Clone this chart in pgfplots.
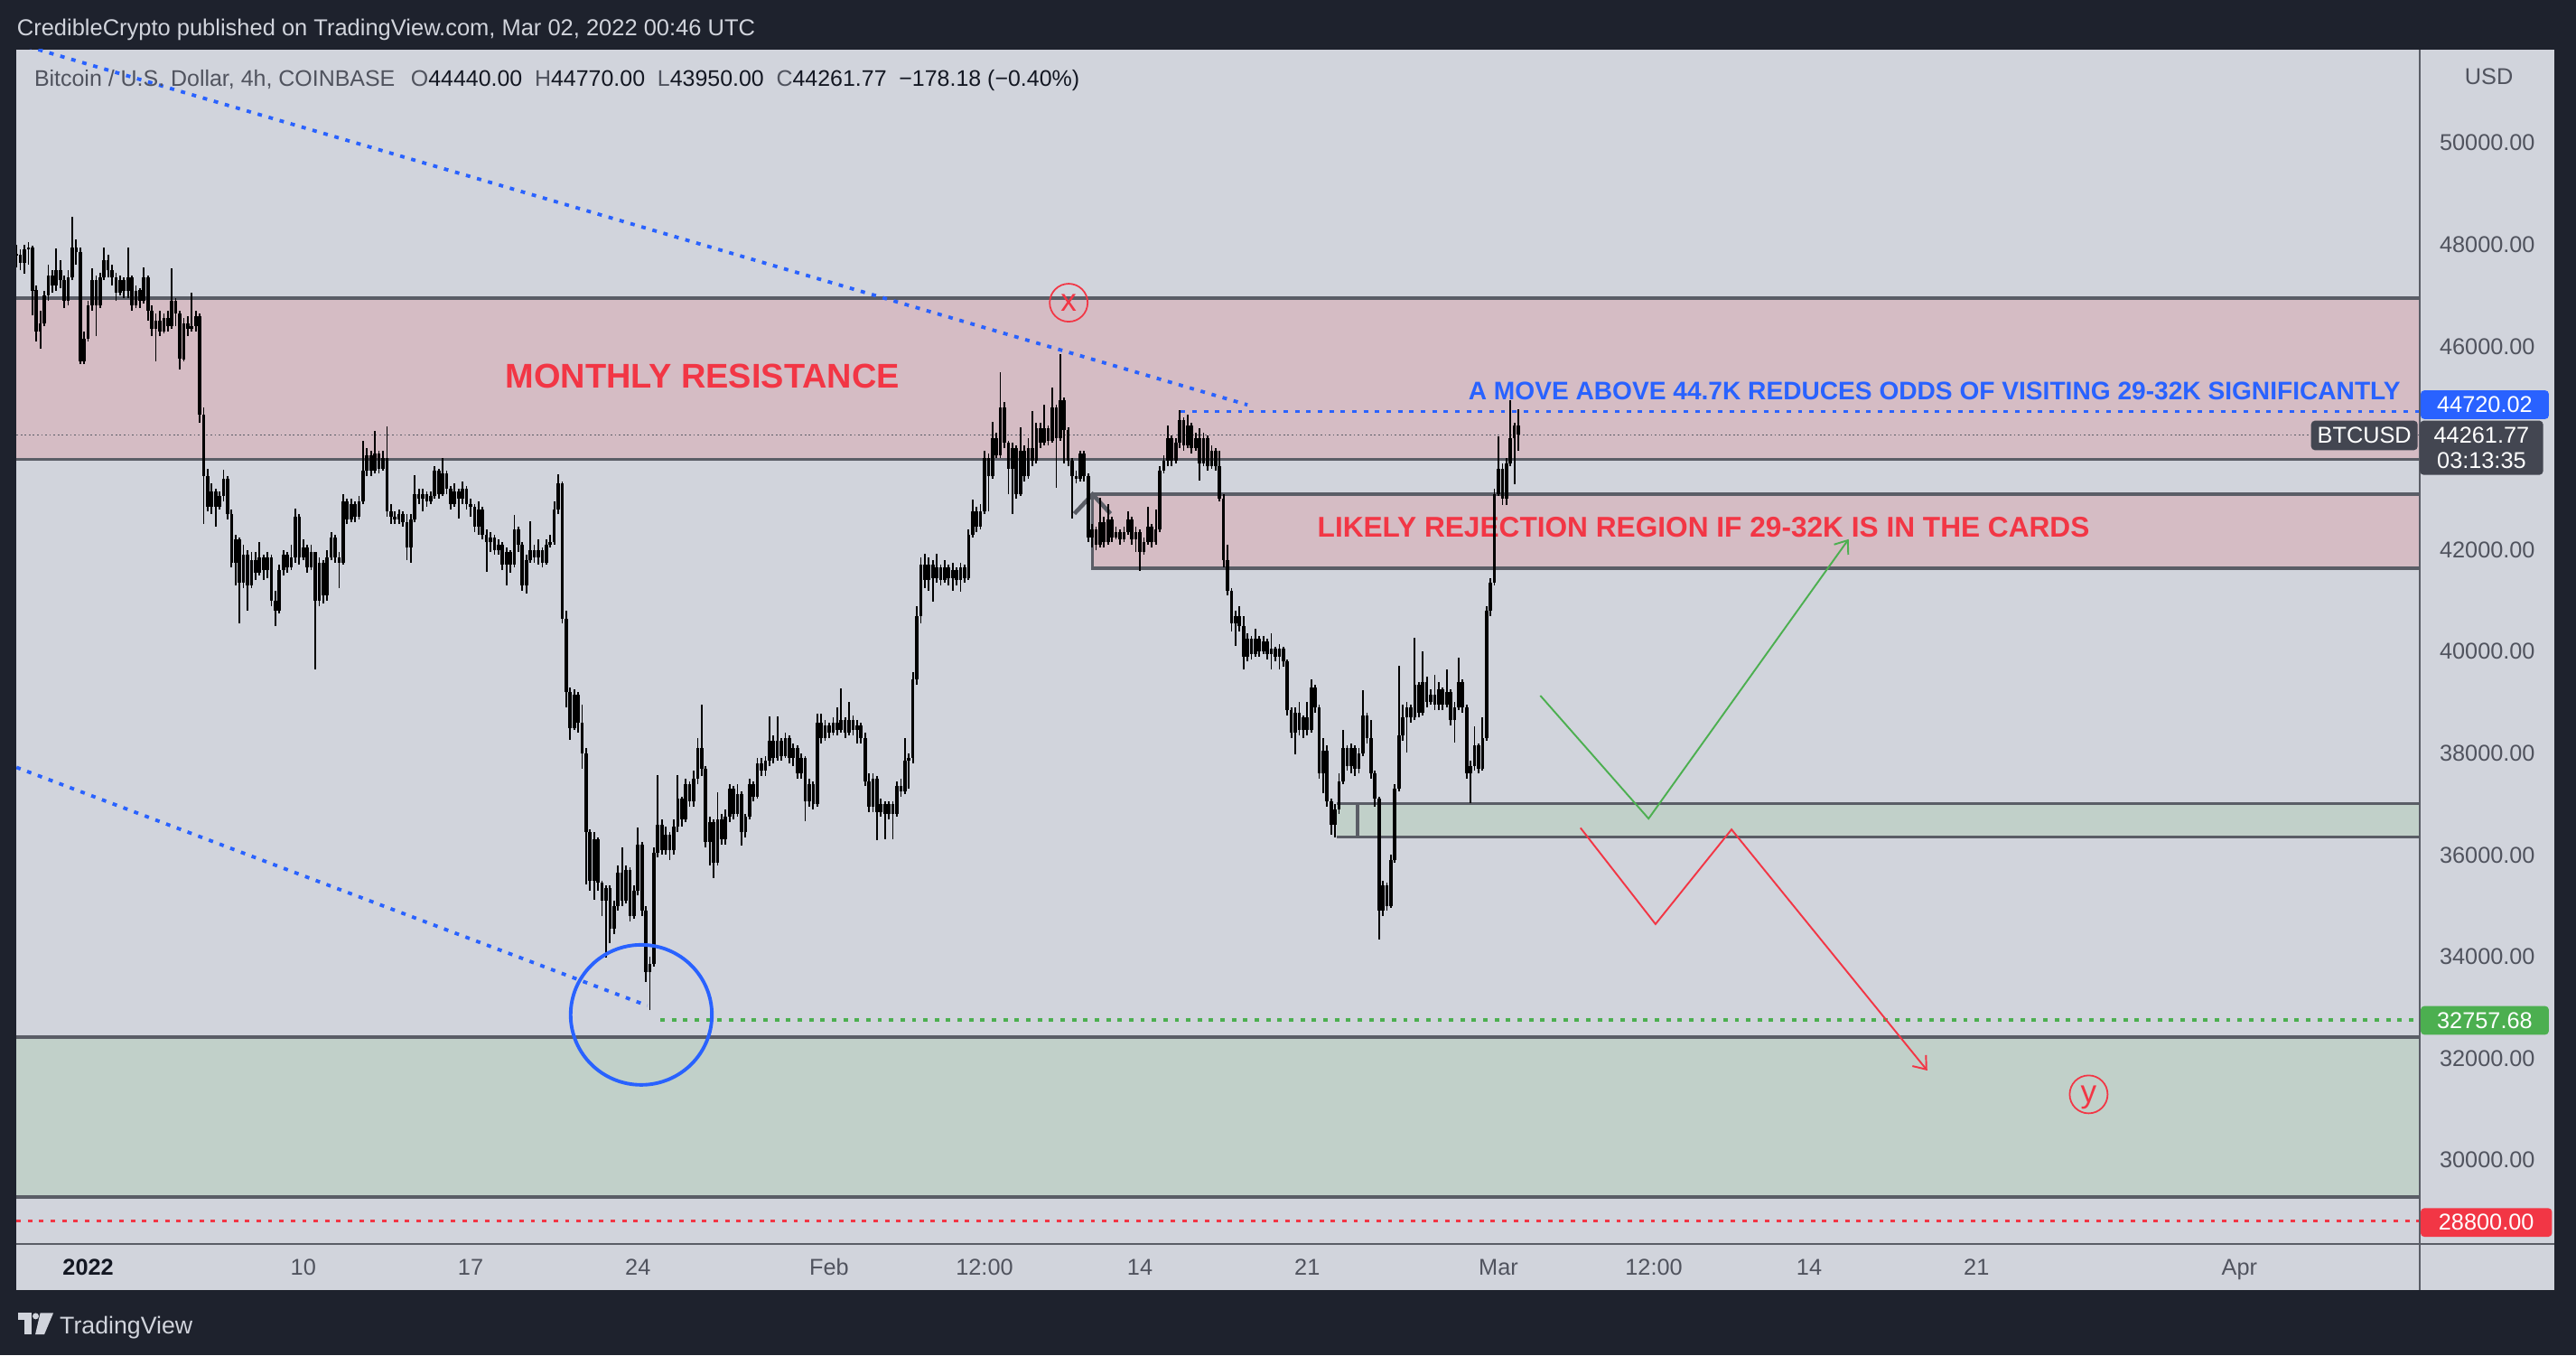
\documentclass[border=0pt]{standalone}
\usepackage{fontspec}
\setmainfont{Liberation Sans}
\usepackage{pgfplots}
\usepackage{pgfplotstable}
\pgfplotsset{compat=1.18}
\usetikzlibrary{arrows.meta}

\definecolor{tvdark}{HTML}{1E222D}
\definecolor{tvbg}{HTML}{D1D4DC}
\definecolor{tvline}{HTML}{5A5D66}
\definecolor{tvtext}{HTML}{50535E}
\definecolor{tvink}{HTML}{131722}
\definecolor{zred}{HTML}{D5BCC4}
\definecolor{zgreen}{HTML}{C1D0C9}
\definecolor{tvred}{HTML}{F23645}
\definecolor{tvblue}{HTML}{2962FF}
\definecolor{tvgreen}{HTML}{4CAF50}
\definecolor{tvbadge}{HTML}{434651}

\newcommand\tvfont{\fontsize{7.2}{8.6}\selectfont}

% BTCUSD 4h candles, 29 Dec 2021 -> 1 Mar 2022: close, high, low (open = previous close)
\pgfplotstableread{
c h l
47800 48000 47550
47650 47900 47500
47900 48000 47420
47950 48050 47600
47100 47980 46620
46300 47200 46100
46450 46700 45950
47000 47100 46400
47400 47600 46900
47200 47500 47050
47500 47920 47100
47300 47700 47150
46900 47400 46750
47350 47500 46800
47950 48550 47300
47850 48100 47600
45700 47950 45650
46150 46300 45650
46800 46900 46100
47300 47540 46700
46800 47400 46200
47350 47450 46750
47700 47950 47300
47500 47800 47350
47350 47600 47200
47050 47450 46900
47300 47400 47000
47100 47350 46950
47350 47950 46950
46800 47400 46700
47100 47200 46750
46900 47150 46750
47350 47550 46850
46700 47400 46500
46350 46800 46200
46500 46650 45700
46300 46700 46200
46550 46650 46250
46400 46700 46300
46900 47540 46350
46650 46950 46400
45750 46700 45540
46450 46550 45700
46350 46600 46200
46400 47060 46300
46600 46700 46300
44650 46650 44500
43450 44800 42500
42850 43600 42750
43150 43300 42700
42850 43200 42450
43050 43150 42800
43400 43570 42950
42700 43450 42600
41750 42800 41650
42200 42300 41300
41350 42250 40550
41900 42100 41250
41300 42000 40800
41800 41950 41250
41550 41950 41400
41850 42150 41500
41600 41900 41400
41850 41950 41450
41000 41900 40900
40800 41200 40500
41600 41700 40750
41900 42000 41500
41650 41950 41550
41850 42100 41600
42650 42810 41750
41850 42700 41700
42050 42200 41800
41650 42100 41550
41950 42100 41600
41000 41950 39640
41750 41850 40900
41100 41800 40950
41850 42000 41000
42250 42350 41800
41850 42300 41750
41750 41950 41250
42950 43100 41700
42600 43000 42500
42900 43000 42550
42650 42950 42550
42950 43050 42600
43550 44140 42900
43850 44000 43450
43550 43950 43450
43900 44340 43500
43600 43950 43500
43800 43950 43550
42750 44430 42650
42650 42900 42500
42600 42750 42500
42700 42800 42500
42550 42750 42450
42050 42700 41800
42600 42700 41750
43100 43470 42550
43000 43200 42900
43100 43200 42750
42950 43150 42850
43050 43150 42900
43550 43650 43000
43100 43600 43000
43500 43810 43050
43200 43550 43100
42900 43250 42800
43150 43300 42850
43000 43200 42610
43200 43350 42900
42900 43250 42800
42850 43000 42650
42450 42900 42350
42800 42950 42300
42300 42850 42200
42150 42400 41570
42250 42350 41950
42000 42300 41900
42100 42200 41900
41700 42150 41600
41950 42050 41300
41700 42000 41550
42400 42690 41650
42100 42450 41950
41300 42150 41200
41800 41900 41140
42000 42560 41750
41850 42100 41750
42000 42200 41700
41750 42050 41650
42100 42200 41700
42150 42300 42050
42800 42950 42100
43300 43480 42700
40650 43350 40550
39200 40800 38900
38500 39300 38260
39150 39250 38450
38600 39200 38400
38000 38950 37700
36450 38100 35420
35500 36500 35300
36300 36450 35120
35450 36350 35300
35100 35500 34800
35350 35400 33990
34550 35400 34260
35000 35100 34450
35650 35800 34900
35100 36150 35000
35700 35800 35050
34800 35750 34700
35300 35400 34750
36200 36540 35200
34900 36250 34800
33700 35000 33500
33850 34000 32960
36050 36150 33800
36600 37570 35950
36100 36700 36000
36400 36550 36000
36100 36450 35900
36550 36700 36000
37100 37570 36450
36700 37150 36550
37400 37500 36650
37050 37450 36950
37500 37650 36950
38100 38300 37400
37700 38950 37550
36250 37750 36150
36650 36750 35800
35850 36700 35550
36700 37230 35800
36300 36800 36200
36750 36900 36200
37300 37400 36650
36800 37350 36700
37200 37400 36750
36450 37250 36190
36750 36800 36350
37400 37500 36700
37150 37450 37050
37800 37900 37100
37650 37900 37550
37850 37950 37550
38250 38730 37750
37900 38350 37800
38250 38730 37850
37950 38300 37850
38300 38400 37900
37900 38350 37800
38100 38200 37750
37600 38150 37500
37900 38000 37500
37050 37950 36670
37400 37500 36950
37000 37450 36900
38600 38780 36950
38300 38770 38200
38550 38650 38250
38400 38600 38300
38600 38700 38350
38450 38900 38350
38650 39280 38400
38400 38700 38300
38650 39000 38350
38450 38750 38350
38550 38650 38200
38300 38600 38200
37450 38400 37350
36950 37600 36850
37500 37600 36850
36850 37550 36290
37000 37100 36750
36800 37050 36300
37000 37050 36700
36800 37050 36300
37350 37450 36750
37250 37500 37150
37850 38300 37200
37900 38000 37300
39450 39600 37800
40700 40900 39350
41700 41850 40550
41400 41930 41250
41700 41850 41200
41450 41800 40980
41650 41930 41350
41400 41700 41300
41650 41800 41350
41450 41700 41300
41600 41750 41200
41400 41650 41300
41650 41750 41180
41450 41700 41350
42300 42400 41400
42750 42980 42250
42450 42850 42350
42750 42900 42400
43800 43950 42700
43450 43900 42750
44200 44510 43400
43850 44300 43800
44800 45500 43800
44100 44900 44000
43600 44150 43090
44000 44100 42710
43100 44050 43000
43950 44410 43050
43450 44050 43350
44000 44200 43400
43750 44720 43650
44400 44500 43700
44100 44500 44000
44400 44850 44050
44150 44450 44050
44800 45190 44100
44200 44850 43220
44950 45840 44150
44350 45000 43700
43750 44400 43650
43450 43800 42610
43400 43550 43300
43900 43940 43350
43450 43940 43350
42250 43500 42150
42400 42500 42050
42100 42450 42000
42550 43020 42050
42150 42650 42050
42600 42900 42100
42250 42650 42150
42350 42450 42200
42200 42400 42100
42350 42450 42150
42600 42750 42300
42200 42650 42100
42350 42450 41950
41950 42400 41590
42150 42250 41900
42450 42850 42100
42150 42500 42050
42400 42800 42100
43550 43650 42350
43750 43850 43500
44200 44450 43650
43750 44250 43650
44100 44200 43700
44550 44750 44000
44050 44600 43950
44450 44650 44000
44000 44500 43900
44200 44300 43950
43700 44400 43360
44200 44300 43650
43650 44250 43550
43950 44050 43600
43650 44000 43550
43000 43950 42950
41800 43100 41650
41200 42100 41100
40550 41250 40400
40700 40800 40110
40500 40900 40400
39900 40700 39640
40250 40350 39800
39950 40300 39850
40250 40450 39900
40000 40300 39900
40200 40300 39950
39950 40250 39850
40050 40350 39650
39900 40100 39800
40050 40150 39650
39800 40100 39700
38850 39850 38750
38400 38900 38300
38800 38900 37970
38450 39000 38350
38700 38750 38300
38450 39000 38350
39300 39450 38400
38900 39350 38800
37600 38950 37500
38050 38300 37220
37050 38150 36950
36600 37100 36400
36900 37000 36350
37450 37600 36800
38100 38450 37400
37750 38150 37650
38100 38200 37600
37700 38150 37550
38000 38100 37600
38750 39240 37950
38300 38800 38200
37600 38650 37500
37100 37650 36950
34900 37150 34330
35400 35500 34800
35000 35450 34900
35900 36000 34950
37300 37400 35850
38350 39720 37250
38700 38950 38250
38900 39000 38010
38700 38950 38600
39350 40270 38650
38800 39400 38700
39400 40000 38750
39000 39500 38900
39150 39250 38950
38950 39550 38850
39250 39400 38850
38950 39300 38850
39200 39650 38900
38650 39250 38550
38900 39000 38210
39400 39880 38850
38900 39450 38800
37600 38950 37500
37750 37850 37020
38150 38530 37650
37700 38200 37600
38300 38700 37650
40800 40900 38250
41350 41450 40700
43100 43200 41300
43600 44240 43050
43000 43700 42890
43700 43800 42890
44200 44950 43650
44440 44500 43290
44262 44770 43950
}\candles

\pgfplotstablecreatecol[create col/assign/.code={%
    \ifnum\pgfplotstablerow=0
      \getthisrow{c}\entry
    \else
      \getprevrow{c}\entry
    \fi
    \pgfkeyslet{/pgfplots/table/create col/next content}\entry}]{o}{\candles}

\tikzset{
  zoneline/.style={tvline, line width=1pt},
  bluedots/.style={tvblue, line width=1.1pt, dash pattern=on 1.4pt off 2.2pt},
  badge/.style={anchor=west, inner sep=0pt, minimum height=0.318cm, minimum width=1.42cm,
    rounded corners=1.2pt, text=white, font=\tvfont},
}

\begin{document}
\begin{tikzpicture}[x=1cm, y=1cm]
% frame and panel
\fill[tvdark] (0,0) rectangle (28.52,15);
\fill[tvbg] (0.1819,0.7218) rectangle (28.284,14.4543);

\begin{axis}[
    at={(0.1819cm,1.2311cm)}, anchor=south west,
    scale only axis, width=26.6102cm, height=13.2232cm,
    xmin=-3, xmax=97.549, ymin=28352.2, ymax=51841.7,
    axis line style={draw=none},
    tick style={draw=none}, major tick length=0pt,
    tick label style={font=\tvfont, text=tvtext},
    xtick={0,9,16,23,31,37.5,44,51,59,65.5,72,79,90},
    xticklabels={{\bfseries\color{tvink}2022},10,17,24,Feb,12:00,14,21,Mar,12:00,14,21,Apr},
    xticklabel style={anchor=base, yshift=-0.346cm},
    ytick={30000,32000,34000,36000,38000,40000,42000,46000,48000,50000},
    yticklabel pos=right,
    yticklabel style={anchor=center, xshift=0.746cm},
    scaled y ticks=false,
    /pgf/number format/.cd, fixed, fixed zerofill, precision=2, 1000 sep={}, assume math mode=true,
  ]
  % zones
  \fill[zred] (axis cs:-3,43780) rectangle (axis cs:97.549,46950);
  \fill[zgreen] (axis cs:-3,29270) rectangle (axis cs:97.549,32420);
  \fill[zred] (axis cs:42.02,41640) rectangle (axis cs:97.549,43090);
  \fill[zgreen] (axis cs:52.22,36350) rectangle (axis cs:97.549,37010);
  \draw[zoneline] (axis cs:-3,46950) -- (axis cs:97.549,46950);
  \draw[zoneline] (axis cs:-3,43780) -- (axis cs:97.549,43780);
  \draw[zoneline] (axis cs:-3,32420) -- (axis cs:97.549,32420);
  \draw[zoneline] (axis cs:-3,29270) -- (axis cs:97.549,29270);
  \draw[zoneline] (axis cs:97.549,43090) -- (axis cs:42.02,43090) -- (axis cs:42.02,41640) -- (axis cs:97.549,41640);
  \draw[zoneline, line width=1.3pt] (axis cs:41.26,42711) -- (axis cs:42.02,43090) -- (axis cs:42.77,42711);
  \draw[zoneline] (axis cs:52.22,37010) -- (axis cs:97.549,37010);
  \draw[zoneline] (axis cs:52.22,36350) -- (axis cs:97.549,36350);
  \draw[zoneline] (axis cs:53.11,37010) -- (axis cs:53.11,36350);
  % last price line
  \draw[tvline, line width=0.4pt, dash pattern=on 0.5pt off 0.8pt] (axis cs:-3,44261.77) -- (axis cs:97.549,44261.77);
  % notes
  \node[text=tvred, font=\bfseries\fontsize{10.8}{12}\selectfont] at (axis cs:25.70,45412) {MONTHLY RESISTANCE};
  \node[text=tvblue, font=\bfseries\fontsize{8}{9}\selectfont] at (axis cs:77.24,45121) {A MOVE ABOVE 44.7K REDUCES ODDS OF VISITING 29-32K SIGNIFICANTLY};
  \node[text=tvred, font=\bfseries\fontsize{9}{10}\selectfont] at (axis cs:67.58,42439) {LIKELY REJECTION REGION IF 29-32K IS IN THE CARDS};

  % candles: wicks, then bodies
  \addplot[draw=none, mark=none, error bars/.cd, y dir=both, y explicit, error mark=none,
      error bar style={draw=black, solid, line width=0.5pt}]
    table[x expr=\coordindex/6-3,
      y expr={(max(\thisrow{h},\thisrow{o},\thisrow{c})+min(\thisrow{l},\thisrow{o},\thisrow{c}))/2},
      y error expr={(max(\thisrow{h},\thisrow{o},\thisrow{c})-min(\thisrow{l},\thisrow{o},\thisrow{c}))/2}]
    {\candles};
  \addplot[draw=none, mark=none, error bars/.cd, y dir=both, y explicit, error mark=none,
      error bar style={draw=black, solid, line width=1.05pt}]
    table[x expr=\coordindex/6-3,
      y expr={(\thisrow{o}+\thisrow{c})/2},
      y error expr={max(abs(\thisrow{c}-\thisrow{o})/2,20)}]
    {\candles};

  % trend lines and levels
  \draw[bluedots] (axis cs:-3,51962) -- (axis cs:48.5,44850);
  \draw[bluedots] (axis cs:45.71,44720.02) -- (axis cs:97.549,44720.02);
  \draw[bluedots] (axis cs:-3,37722) -- (axis cs:23.39,33037);
  \draw[tvgreen, line width=1pt, dash pattern=on 1.4pt off 2.2pt] (axis cs:23.94,32757.68) -- (axis cs:97.549,32757.68);
  \draw[tvred, line width=1pt, dash pattern=on 1.4pt off 2.2pt] (axis cs:-3,28800) -- (axis cs:97.549,28800);
  \draw[tvblue, line width=1.1pt] (axis cs:23.14,32856) ellipse[x radius=0.782cm, y radius=0.775cm];
  % wave labels
  \draw[tvred, line width=0.5pt] (axis cs:41.02,46859) circle[radius=0.21cm];
  \node[text=tvred, font=\fontsize{10}{11}\selectfont, anchor=base, yshift=-2.6pt] at (axis cs:41.02,46859) {x};
  \draw[tvred, line width=0.5pt] (axis cs:83.69,31292) circle[radius=0.21cm];
  \node[text=tvred, font=\fontsize{10}{11}\selectfont, anchor=base, yshift=-2.6pt] at (axis cs:83.69,31292) {y};
  % scenario paths
  \draw[tvgreen, line width=0.55pt, -{Straight Barb[length=3.6pt,width=5.5pt]}]
    (axis cs:60.75,39134) -- (axis cs:65.28,36714) -- (axis cs:73.65,42210);
  \draw[tvred, line width=0.55pt, -{Straight Barb[length=3.6pt,width=5.5pt]}]
    (axis cs:62.43,36533) -- (axis cs:65.57,34640) -- (axis cs:68.75,36501) -- (axis cs:76.94,31761);
\end{axis}

% separators of the price and time scales
\draw[tvline, line width=0.5pt] (0.1819,1.2311) -- (28.284,1.2311);
\draw[tvline, line width=0.5pt] (26.7921,0.7218) -- (26.7921,14.4543);

% price scale badges
\node[font=\tvfont, text=tvtext] at (27.556,14.154) {USD};
\node[badge, fill=tvblue] at (26.7921,10.520) {44720.02};
\fill[tvbadge, rounded corners=1.2pt] (26.7921,10.344) rectangle (28.156,9.743);
\node[font=\tvfont, text=white] at (27.474,10.187) {44261.77};
\node[font=\tvfont, text=white] at (27.474,9.898) {03:13:35};
\node[badge, fill=tvgreen] at (26.7921,3.705) {32757.68};
\node[badge, fill=tvred, minimum width=1.455cm] at (26.7921,1.468) {28800.00};
\node[anchor=east, inner sep=0pt, minimum width=1.18cm, minimum height=0.327cm, rounded corners=1.2pt,
  fill=tvbadge, text=white, font=\tvfont] at (26.774,10.180) {BTCUSD};

% legend line
\node[anchor=base west, inner sep=0pt, font=\fontsize{7.1}{8.5}\selectfont] at (0.373,14.049)
  {{\color{tvtext}Bitcoin / U.S. Dollar, 4h, COINBASE}\hspace{0.7em}{\color{tvtext}O}{\color{tvink}44440.00}\hspace{0.55em}{\color{tvtext}H}{\color{tvink}44770.00}\hspace{0.55em}{\color{tvtext}L}{\color{tvink}43950.00}\hspace{0.55em}{\color{tvtext}C}{\color{tvink}44261.77}\hspace{0.55em}{\color{tvink}−178.18 (−0.40\%)}};

% header and footer
\node[anchor=base west, inner sep=0pt, font=\fontsize{7.25}{8.6}\selectfont, text=tvbg] at (0.182,14.600)
  {CredibleCrypto published on TradingView.com, Mar 02, 2022 00:46 UTC};
\fill[tvbg] (0.200,0.467) rectangle (0.346,0.394);
\fill[tvbg] (0.273,0.467) rectangle (0.346,0.230);
\fill[tvbg] (0.395,0.431) circle[radius=0.035];
\fill[tvbg] (0.446,0.467) -- (0.591,0.467) -- (0.491,0.230) -- (0.391,0.230) -- cycle;
\node[anchor=base west, inner sep=0pt, font=\fontsize{7.6}{9}\selectfont, text=tvbg] at (0.655,0.240) {TradingView};
\end{tikzpicture}
\end{document}
